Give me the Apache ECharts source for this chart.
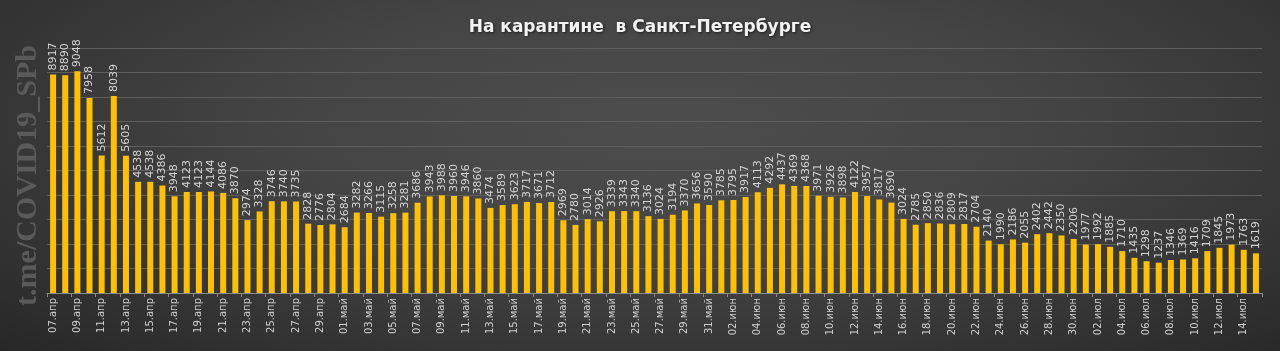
<!DOCTYPE html>
<html>
<head>
<meta charset="utf-8">
<script src="https://cdn.jsdelivr.net/npm/echarts@6/dist/echarts.min.js"></script>
<style>
html,body{margin:0;padding:0;}
body{width:1280px;height:351px;background:radial-gradient(ellipse 75% 95% at 52% 35%, #4d4d4d 0%, #444444 40%, #333333 75%, #262626 100%);}
#chart{width:1280px;height:351px;}
</style>
</head>
<body>
<div id="chart"></div>
<script>
const title = "На карантине  в Санкт-Петербурге";
const watermark = "t.me/COVID19_SPb";
const months = ["апр", "май", "июн", "июл"];
const monthDays = [30, 31, 30, 31];
const startDay = 7;
const values = [
  8917, 8890, 9048, 7958, 5612, 8039, 5605,
  4538, 4538, 4386, 3948, 4123, 4123, 4144, 4086, 3870,
  2974, 3328, 3746, 3740, 3735, 2828, 2776, 2804, 2684,
  3282, 3266, 3115, 3258, 3281, 3686, 3943, 3988, 3960, 3946,
  3860, 3474, 3589, 3623, 3717, 3671, 3712, 2969, 2780, 3014, 2926, 3339, 3343, 3340, 3136, 3024, 3194,
  3370, 3656, 3590, 3785, 3795, 3917, 4113, 4292, 4437, 4369, 4368, 3971, 3926, 3898, 4122, 3957, 3817, 3690,
  3024, 2785, 2850, 2836, 2809, 2817, 2704, 2140, 1990, 2186, 2055, 2402, 2442, 2350, 2206, 1977, 1992,
  1885, 1710, 1435, 1298, 1237, 1346, 1369, 1416, 1709, 1845, 1973, 1763, 1619
];
// build category labels dd.mon
const categories = [];
let m = 0, d = startDay;
for (let i = 0; i < values.length; i++) {
  categories.push(String(d).padStart(2, "0") + "." + months[m]);
  d++;
  if (d > monthDays[m]) { d = 1; m++; }
}

const chart = echarts.init(document.getElementById("chart"), null, {renderer: "canvas"});
chart.setOption({
  backgroundColor: "transparent",
  animation: false,
  title: {
    text: title,
    left: "center",
    top: 14,
    textStyle: {
      color: "#f2f2f2",
      fontFamily: "DejaVu Sans",
      fontWeight: "bold",
      fontSize: 17,
      textShadowColor: "rgba(0,0,0,0.6)",
      textShadowBlur: 3,
      textShadowOffsetX: 1,
      textShadowOffsetY: 1
    }
  },
  graphic: [{
    type: "text",
    left: 13,
    top: "center",
    rotation: Math.PI / 2,
    style: {
      text: watermark,
      fill: "#5a5a5a",
      font: "bold 30px 'Liberation Serif'"
    },
    silent: true
  }],
  grid: {left: 47, right: 18, top: 48, bottom: 58, containLabel: false},
  xAxis: {
    type: "category",
    data: categories,
    axisLine: {lineStyle: {color: "#8a8a8a", width: 1}},
    axisTick: {show: true, interval: 1, length: 4, lineStyle: {color: "#8a8a8a"}},
    axisLabel: {
      interval: 1,
      rotate: 90,
      color: "#d0d0d0",
      fontFamily: "DejaVu Sans",
      fontSize: 10,
      margin: 5
    }
  },
  yAxis: {
    type: "value",
    min: 0,
    max: 10000,
    interval: 1000,
    axisLabel: {show: false},
    axisLine: {show: false},
    axisTick: {show: false},
    splitLine: {lineStyle: {color: "#5e5e5e", width: 1}}
  },
  series: [{
    type: "bar",
    data: values,
    barWidth: 6,
    itemStyle: {color: "#FFC000"},
    label: {
      show: true,
      position: "top",
      rotate: 90,
      align: "left",
      verticalAlign: "middle",
      distance: 4,
      color: "#d4d4d4",
      fontFamily: "DejaVu Sans",
      fontSize: 11
    }
  }]
});
</script>
</body>
</html>
